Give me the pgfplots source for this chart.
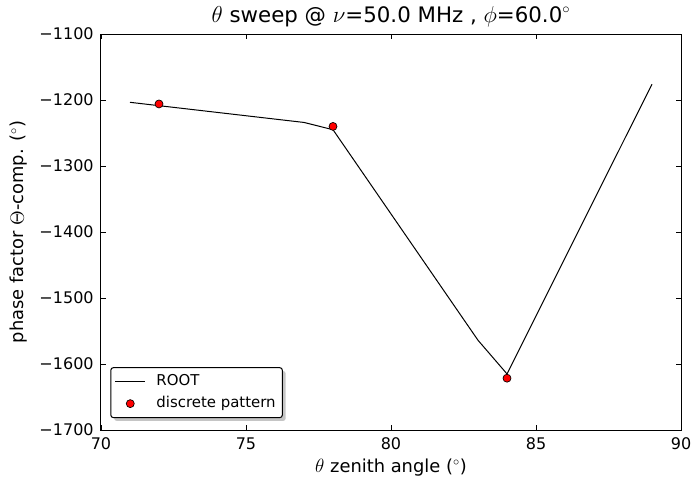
\documentclass[border=0pt]{standalone}
\usepackage{pgfplots}
\pgfplotsset{compat=1.18}
\usepackage{fontspec}
\setmainfont{DejaVu Sans}
\usetikzlibrary{shadows}

% keep the legend box shadow from being repeated on the samples inside it
\makeatletter
\tikzset{no preactions/.code={\let\tikz@preactions\pgfutil@empty}}
\makeatother

% legend samples: a longer line, and a single centred marker
\pgfplotsset{
  longline legend/.style={
    legend image code/.code={\draw[no preactions,##1] (0cm,0cm) -- (0.79cm,0cm);}},
  centremark legend/.style={
    legend image code/.code={\draw[no preactions,mark repeat=2,mark phase=2,##1]
      plot coordinates {(0cm,0cm) (0.395cm,0cm) (0.79cm,0cm)};}},
}

\begin{document}
\begin{tikzpicture}[x=1pt,y=1pt]
\begin{axis}[
  at={(0,0)}, anchor=south west,
  scale only axis,
  width=435pt, height=297pt,
  xmin=70, xmax=90, ymin=-1700, ymax=-1100,
  xtick={70,75,80,85,90},
  ytick={-1700,-1600,-1500,-1400,-1300,-1200,-1100},
  yticklabels={−1700,−1600,−1500,−1400,−1300,−1200,−1100},
  /pgf/number format/assume math mode=true,
  tick align=inside,
  major tick length=3.5pt,
  tick style={black, line width=0.6pt},
  axis line style={line width=0.75pt},
  ticklabel style={font=\fontsize{12}{14}\selectfont},
  xticklabel style={yshift=-2pt},
  yticklabel style={xshift=-2pt},
  title={$\theta$ sweep @ $\nu$=50.0 MHz , $\phi$=60.0$^\circ$},
  title style={font=\fontsize{16}{19}\selectfont, yshift=-4pt},
  xlabel={$\theta$ zenith angle ($^\circ$)},
  ylabel={phase factor $\Theta$-comp. ($^\circ$)},
  label style={font=\fontsize{13.4}{16}\selectfont},
  xlabel style={yshift=0pt},
  ylabel style={yshift=2pt},
  legend cell align=left,
  legend style={
    at={(0.016,0.03)}, anchor=south west,
    font=\fontsize{11.2}{13}\selectfont,
    rounded corners=2pt, draw=black, line width=0.75pt, fill=white,
    drop shadow={shadow xshift=2.5pt, shadow yshift=-2.5pt, fill=black!45},
    inner sep=3pt, row sep=1.5pt,
    nodes={no preactions, inner sep=2pt, text height=8.5pt, text depth=2.5pt},
    /tikz/every odd column/.append style={column sep=6pt},
  },
]
\addplot[black, line width=0.75pt, mark=none, longline legend]
  coordinates {
    (71,-1203.5) (77,-1234) (78,-1245) (83,-1564) (84,-1615) (89,-1176)
  };
\addlegendentry{ROOT}
\addplot[only marks, mark=*, mark size=3pt,
  mark options={fill=red, draw=black, line width=0.5pt}, centremark legend]
  coordinates {
    (72,-1206) (78,-1240) (84,-1621.5)
  };
\addlegendentry{discrete pattern}
\end{axis}
\pgfresetboundingbox
\path[use as bounding box] (-75.75,-37.5) rectangle (445.5,322.5);
\end{tikzpicture}
\end{document}
